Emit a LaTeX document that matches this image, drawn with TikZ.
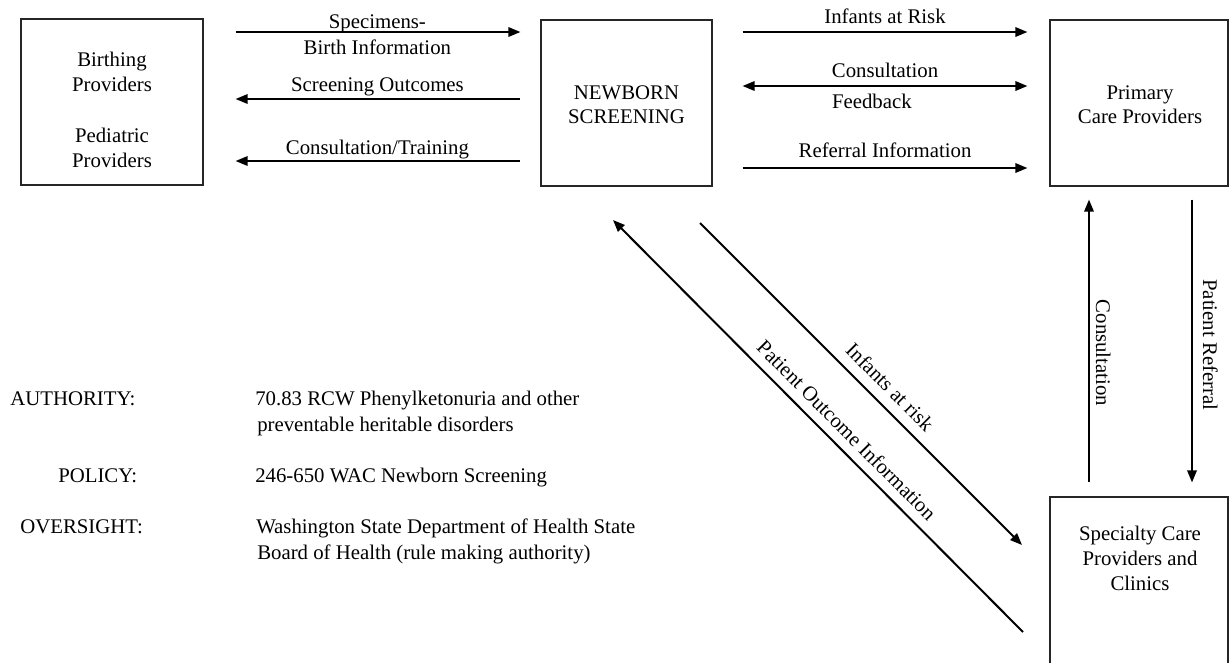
\documentclass[tikz,border=0pt]{standalone}
\usepackage{fontspec}
\setmainfont{Liberation Serif}
\usetikzlibrary{arrows.meta}
\begin{document}
\begin{tikzpicture}[x=0.75pt,y=-0.75pt,
  every node/.style={font=\fontsize{15.6pt}{18.75pt}\selectfont, inner sep=0pt},
  box/.style={draw=black!85, line width=0.8pt},
  txt/.style={anchor=base},
  ltxt/.style={anchor=base west},
  arr/.style={line width=1.5pt, -{Triangle[length=9pt,width=7pt]}},
  rarr/.style={line width=1.5pt, {Triangle[length=9pt,width=7pt]}-},
  darr/.style={line width=1.5pt, {Triangle[length=9pt,width=7pt]}-{Triangle[length=9pt,width=7pt]}},
]
\useasboundingbox (0,0) rectangle (1229,662);

% boxes
\node[box, minimum width=136.5pt, minimum height=124.5pt] (bp) at (112,102) {};
\node[box, minimum width=128.25pt, minimum height=124.5pt] (nb) at (626.5,103) {};
\node[box, minimum width=133.5pt, minimum height=124.5pt] (pc) at (1139,103) {};
\node[box, minimum width=133.5pt, minimum height=129.75pt] (sc) at (1139,583.5) {};

% box texts
\node[txt] (bp1) at (112,66) {Birthing};
\node[txt] (bp2) at (112,91) {Providers};
\node[txt] (bp3) at (112,142) {Pediatric};
\node[txt] (bp4) at (112,167) {Providers};
\node[txt] (nb1) at (626.5,99) {NEWBORN};
\node[txt] (nb2) at (626.5,123) {SCREENING};
\node[txt] (pc1) at (1140,99) {Primary};
\node[txt] (pc2) at (1140,123) {Care Providers};
\node[txt] (sc1) at (1140,540) {Specialty Care};
\node[txt] (sc2) at (1140,565) {Providers and};
\node[txt] (sc3) at (1140,590) {Clinics};

% rows
\coordinate (r1) at (0,32);
\coordinate (r2) at (0,99);
\coordinate (r3) at (0,161);
\coordinate (q1) at (0,32);
\coordinate (q2) at (0,86);
\coordinate (q3) at (0,168);
\coordinate (vc) at (1089,0);
\coordinate (vr) at (1192,0);

% left arrows
\draw[arr, shorten <=24pt, shorten >=15pt] (bp.east |- r1) -- (nb.west |- r1)
  node[pos=0.516, txt, yshift=3pt] {Specimens-}
  node[pos=0.516, txt, yshift=-16.5pt] {Birth Information};
\draw[rarr, shorten <=24pt, shorten >=15pt] (bp.east |- r2) -- (nb.west |- r2)
  node[pos=0.516, txt, yshift=6pt] {Screening Outcomes};
\draw[rarr, shorten <=24pt, shorten >=15pt] (bp.east |- r3) -- (nb.west |- r3)
  node[pos=0.516, txt, yshift=5.25pt] {Consultation/Training};

% right arrows
\draw[arr, shorten <=22.5pt, shorten >=16.5pt] (nb.east |- q1) -- (pc.west |- q1)
  node[pos=0.512, txt, yshift=6.75pt] {Infants at Risk};
\draw[darr, shorten <=22.5pt, shorten >=16.5pt] (nb.east |- q2) -- (pc.west |- q2)
  node[pos=0.512, txt, yshift=6.75pt] {Consultation}
  node[pos=0.473, txt, yshift=-16.5pt] {Feedback};
\draw[arr, shorten <=22.5pt, shorten >=16.5pt] (nb.east |- q3) -- (pc.west |- q3)
  node[pos=0.512, txt, yshift=8.25pt] {Referral Information};

% vertical arrows
\draw[rarr, shorten <=9.75pt, shorten >=10.5pt] (pc.south -| vc) -- (sc.north -| vc)
  node[pos=0.537, sloped, above=4.5pt] {Consultation};
\draw[arr, shorten <=9.75pt, shorten >=10.5pt] (pc.south -| vr) -- (sc.north -| vr)
  node[pos=0.511, sloped, above=7.5pt] {Patient Referral};

% diagonal arrows
\coordinate (a1) at (700,223);
\coordinate (a2) at (1022,545);
\coordinate (b1) at (613,220);
\coordinate (b2) at (1023,632);
\draw[arr] (a1) -- (a2) node[pos=0.55, sloped, above=7.5pt] {Infants at risk};
\draw[rarr] (b1) -- (b2) node[pos=0.54, sloped, above=6.75pt] {Patient Outcome Information};

% legal text
\node[ltxt] (au) at (10,405) {AUTHORITY:};
\node[ltxt] (au1) at (255,405) {70.83 RCW Phenylketonuria and other};
\node[ltxt] (au2) at (257,431) {preventable heritable disorders};
\node[ltxt] (po) at (58,482) {POLICY:};
\node[ltxt] (po1) at (255,482) {246-650 WAC Newborn Screening};
\node[ltxt] (ov) at (20,533) {OVERSIGHT:};
\node[ltxt] (ov1) at (256,533) {Washington State Department of Health State};
\node[ltxt] (ov2) at (257,559) {Board of Health (rule making authority)};
\end{tikzpicture}
\end{document}
